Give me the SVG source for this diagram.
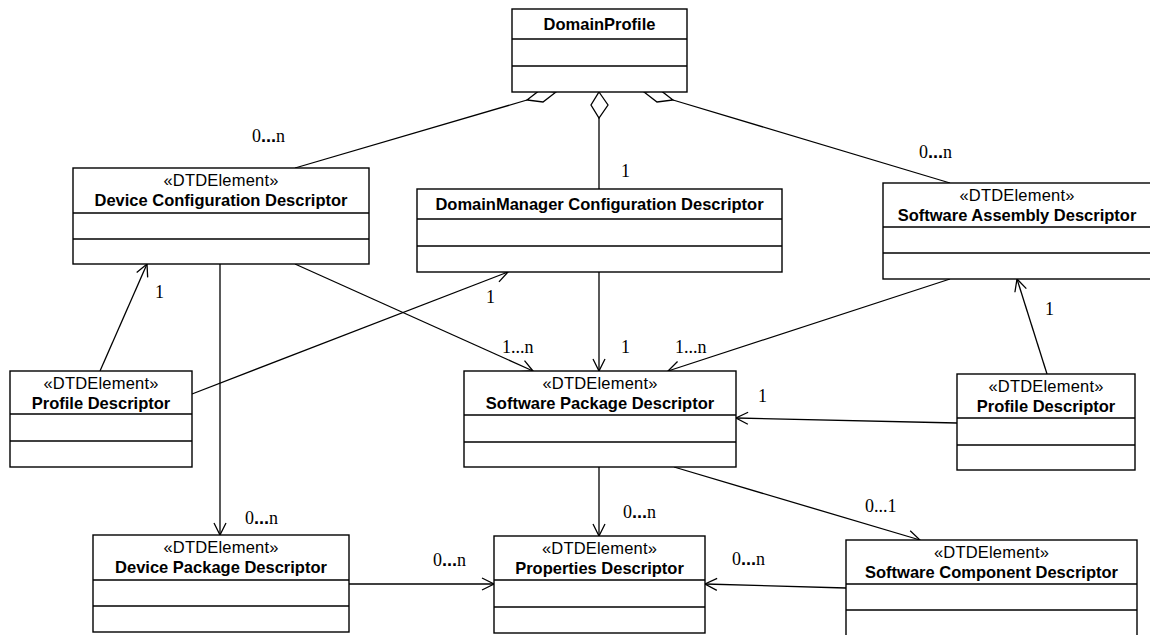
<svg xmlns="http://www.w3.org/2000/svg" width="1150" height="635" viewBox="0 0 1150 635">
<style>
.box{fill:#fff;stroke:#000;stroke-width:1.4}
.sep{stroke:#000;stroke-width:1.4}
.st{font-family:"Liberation Sans",Arial,sans-serif;font-size:16.5px;letter-spacing:0.2px;text-anchor:middle;fill:#000}
.ti{font-family:"Liberation Sans",Arial,sans-serif;font-size:16.5px;font-weight:bold;text-anchor:middle;fill:#000}
.ln{stroke:#000;stroke-width:1.3;fill:none}
.dia{fill:#fff;stroke:#000;stroke-width:1.3}
.m{font-family:"Liberation Serif","Times New Roman",serif;font-size:18px;fill:#000}
.d{font-family:"Liberation Sans",Arial,sans-serif;font-weight:bold}
</style>
<defs>
<marker id="arr" markerUnits="userSpaceOnUse" markerWidth="14" markerHeight="14" refX="13" refY="7" orient="auto">
<path d="M1,1 L13,7 L1,13" fill="none" stroke="#000" stroke-width="1.3"/>
</marker>
</defs>
<rect width="1150" height="635" fill="#fff"/>

<g id="connectors">
<line class="ln" x1="295" y1="168" x2="527" y2="100"/>
<polygon class="dia" points="556,92 540,90 527,100 543,102"/>
<line class="ln" x1="599" y1="118" x2="599" y2="189"/>
<polygon class="dia" points="599,92 608,105 599,118 591,105"/>
<line class="ln" x1="673" y1="100" x2="950" y2="183"/>
<polygon class="dia" points="644,92 660,90 673,100 657,102"/>
<line class="ln" x1="100" y1="371" x2="147" y2="264" marker-end="url(#arr)"/>
<line class="ln" x1="192" y1="394" x2="508" y2="272" marker-end="url(#arr)"/>
<line class="ln" x1="295" y1="264" x2="533" y2="371" marker-end="url(#arr)"/>
<line class="ln" x1="599" y1="272" x2="599" y2="371" marker-end="url(#arr)"/>
<line class="ln" x1="950" y1="279" x2="668" y2="371" marker-end="url(#arr)"/>
<line class="ln" x1="1047" y1="374" x2="1017" y2="279" marker-end="url(#arr)"/>
<line class="ln" x1="957" y1="423" x2="736" y2="418" marker-end="url(#arr)"/>
<line class="ln" x1="220" y1="264" x2="220" y2="535" marker-end="url(#arr)"/>
<line class="ln" x1="349" y1="584" x2="494" y2="584" marker-end="url(#arr)"/>
<line class="ln" x1="599" y1="467" x2="599" y2="536" marker-end="url(#arr)"/>
<line class="ln" x1="674" y1="467" x2="920" y2="540" marker-end="url(#arr)"/>
<line class="ln" x1="846" y1="588" x2="705" y2="584" marker-end="url(#arr)"/>
<text class="m" x="252" y="142">0<tspan class="d">...</tspan>n</text>
<text class="m" x="621" y="177">1</text>
<text class="m" x="919" y="158">0<tspan class="d">...</tspan>n</text>
<text class="m" x="155" y="298">1</text>
<text class="m" x="486" y="303">1</text>
<text class="m" x="502" y="353">1...n</text>
<text class="m" x="621" y="353">1</text>
<text class="m" x="675" y="353">1...n</text>
<text class="m" x="1045" y="315">1</text>
<text class="m" x="758" y="402">1</text>
<text class="m" x="245" y="524">0<tspan class="d">...</tspan>n</text>
<text class="m" x="433" y="566">0<tspan class="d">...</tspan>n</text>
<text class="m" x="623" y="518">0<tspan class="d">...</tspan>n</text>
<text class="m" x="865" y="512">0...1</text>
<text class="m" x="732" y="565">0<tspan class="d">...</tspan>n</text>
</g>

<g id="domainProfile">
<rect class="box" x="512" y="9" width="175" height="83"/>
<line class="sep" x1="512" y1="39" x2="687" y2="39"/>
<line class="sep" x1="512" y1="66" x2="687" y2="66"/>
<text class="ti" x="599.5" y="30">DomainProfile</text>
</g>

<g id="deviceConfigurationDescriptor">
<rect class="box" x="73" y="168" width="296" height="96"/>
<line class="sep" x1="73" y1="213" x2="369" y2="213"/>
<line class="sep" x1="73" y1="239" x2="369" y2="239"/>
<text class="st" x="221" y="186">«DTDElement»</text>
<text class="ti" x="221" y="206">Device Configuration Descriptor</text>
</g>

<g id="domainManagerConfigurationDescriptor">
<rect class="box" x="417" y="189" width="365" height="83"/>
<line class="sep" x1="417" y1="219" x2="782" y2="219"/>
<line class="sep" x1="417" y1="246" x2="782" y2="246"/>
<text class="ti" x="599.5" y="210">DomainManager Configuration Descriptor</text>
</g>

<g id="softwareAssemblyDescriptor">
<rect class="box" x="883" y="183" width="270" height="96"/>
<line class="sep" x1="883" y1="227" x2="1153" y2="227"/>
<line class="sep" x1="883" y1="253" x2="1153" y2="253"/>
<text class="st" x="1017" y="201">«DTDElement»</text>
<text class="ti" x="1017" y="221">Software Assembly Descriptor</text>
</g>

<g id="profileDescriptorLeft">
<rect class="box" x="10" y="371" width="182" height="96"/>
<line class="sep" x1="10" y1="414" x2="192" y2="414"/>
<line class="sep" x1="10" y1="441" x2="192" y2="441"/>
<text class="st" x="101" y="389">«DTDElement»</text>
<text class="ti" x="101" y="409">Profile Descriptor</text>
</g>

<g id="softwarePackageDescriptor">
<rect class="box" x="464" y="371" width="272" height="96"/>
<line class="sep" x1="464" y1="415" x2="736" y2="415"/>
<line class="sep" x1="464" y1="442" x2="736" y2="442"/>
<text class="st" x="600" y="389">«DTDElement»</text>
<text class="ti" x="600" y="409">Software Package Descriptor</text>
</g>

<g id="profileDescriptorRight">
<rect class="box" x="957" y="374" width="178" height="96"/>
<line class="sep" x1="957" y1="418" x2="1135" y2="418"/>
<line class="sep" x1="957" y1="445" x2="1135" y2="445"/>
<text class="st" x="1046" y="392">«DTDElement»</text>
<text class="ti" x="1046" y="412">Profile Descriptor</text>
</g>

<g id="devicePackageDescriptor">
<rect class="box" x="93" y="535" width="256" height="97"/>
<line class="sep" x1="93" y1="580" x2="349" y2="580"/>
<line class="sep" x1="93" y1="606" x2="349" y2="606"/>
<text class="st" x="221" y="553">«DTDElement»</text>
<text class="ti" x="221" y="573">Device Package Descriptor</text>
</g>

<g id="propertiesDescriptor">
<rect class="box" x="494" y="536" width="211" height="97"/>
<line class="sep" x1="494" y1="580" x2="705" y2="580"/>
<line class="sep" x1="494" y1="607" x2="705" y2="607"/>
<text class="st" x="599.5" y="554">«DTDElement»</text>
<text class="ti" x="599.5" y="574">Properties Descriptor</text>
</g>

<g id="softwareComponentDescriptor">
<rect class="box" x="846" y="540" width="291" height="110"/>
<line class="sep" x1="846" y1="584" x2="1137" y2="584"/>
<line class="sep" x1="846" y1="610" x2="1137" y2="610"/>
<text class="st" x="991.5" y="558">«DTDElement»</text>
<text class="ti" x="991.5" y="578">Software Component Descriptor</text>
</g>
</svg>
